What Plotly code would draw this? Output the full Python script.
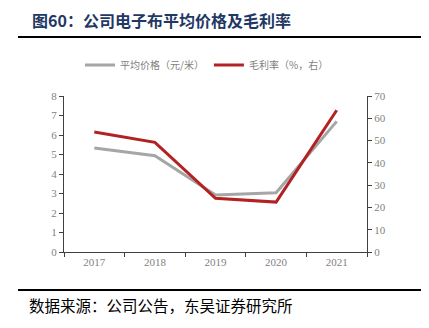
import plotly.graph_objects as go

years = ["2017", "2018", "2019", "2020", "2021"]
avg_price = [5.33, 4.94, 2.92, 3.04, 6.70]
gross_margin = [53.8, 49.2, 24.1, 22.4, 63.6]

title_text = "图60：公司电子布平均价格及毛利率"
source_text = "数据来源：公司公告，东吴证券研究所"
name_price = "平均价格（元/米）"
name_margin = "毛利率（%，右）"

# plot area in pixels
L, R, T, B = 64, 367, 96, 252
W, H = 429, 328
pw, ph = R - L, B - T
def px(x): return (x - L) / pw
def py(y): return (B - y) / ph

fig = go.Figure()
fig.add_trace(go.Scatter(x=years, y=avg_price, name=name_price, mode="lines",
                         line=dict(color="#A6A6A6", width=3)))
fig.add_trace(go.Scatter(x=years, y=gross_margin, name=name_margin, mode="lines",
                         line=dict(color="#B22222", width=3), yaxis="y2"))

tickfont = dict(family="Liberation Serif, Times New Roman, serif", size=11, color="#7F7F7F")
axcol = "#404040"
fig.update_layout(
    width=W, height=H,
    margin=dict(l=L, r=W - R, t=T, b=H - B),
    plot_bgcolor="white", paper_bgcolor="white",
    showlegend=True,
    legend=dict(orientation="h", x=px(80), xanchor="left", y=py(65), yanchor="middle",
                font=dict(family="Noto Sans CJK SC", size=10, color="#7F7F7F"),
                itemwidth=30, tracegroupgap=0, bgcolor="rgba(0,0,0,0)"),
    xaxis=dict(type="category", range=[-0.5, 4.5], tickson="boundaries", ticks="outside",
               ticklen=4, tickcolor=axcol, showline=True, linecolor=axcol, linewidth=1,
               showgrid=False, tickfont=tickfont, zeroline=False),
    yaxis=dict(range=[0, 8], dtick=1, ticks="outside", ticklen=4, tickcolor=axcol,
               showline=True, linecolor=axcol, linewidth=1, showgrid=False,
               zeroline=False, tickfont=tickfont),
    yaxis2=dict(range=[0, 70], dtick=10, overlaying="y", side="right", ticks="outside",
                ticklen=4, tickcolor=axcol, showline=True, linecolor=axcol, linewidth=1,
                showgrid=False, zeroline=False, tickfont=tickfont),
)

fig.add_annotation(text="<b>" + title_text + "</b>", xref="paper", yref="paper",
                   x=px(30), y=py(20), xanchor="left", yanchor="middle", showarrow=False,
                   font=dict(family="Noto Sans CJK SC", size=16, color="#1F3864"))
fig.add_annotation(text=source_text, xref="paper", yref="paper",
                   x=px(27), y=py(305), xanchor="left", yanchor="middle", showarrow=False,
                   font=dict(family="Noto Sans CJK SC", size=15.5, color="#000000"))
fig.add_shape(type="line", xref="paper", yref="paper", x0=px(18), x1=px(421),
              y0=py(37), y1=py(37), line=dict(color="#000000", width=2))
fig.add_shape(type="line", xref="paper", yref="paper", x0=px(18), x1=px(421),
              y0=py(290), y1=py(290), line=dict(color="#000000", width=2))

fig.write_html("out.html")
